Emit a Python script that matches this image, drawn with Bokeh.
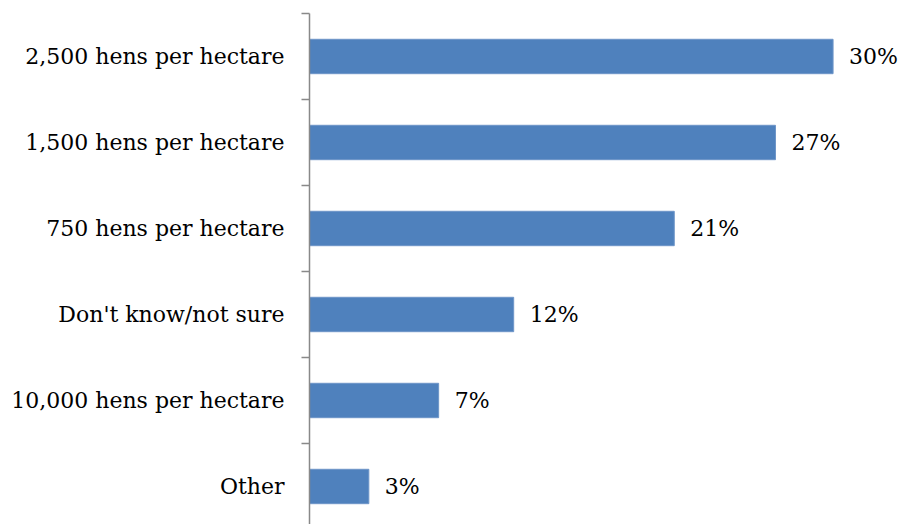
from bokeh.plotting import figure
from bokeh.models import ColumnDataSource, Range1d, FixedTicker, LinearAxis
from bokeh.core.properties import value
from bokeh.embed import file_html
from bokeh.resources import INLINE

categories = ["2,500 hens per hectare", "1,500 hens per hectare", "750 hens per hectare",
              "Don't know/not sure", "10,000 hens per hectare", "Other"]
values = [30.0, 26.7, 20.9, 11.7, 7.4, 3.4]
value_labels = ["30%", "27%", "21%", "12%", "7%", "3%"]

n = len(categories)
ypos = [n - i - 0.5 for i in range(n)]
boundaries = [float(k) for k in range(n + 1)]

FONT = "DejaVu Serif"
FS = "22px"

src = ColumnDataSource(dict(y=ypos, v=values, lab=value_labels))

p = figure(width=905, height=524, frame_width=596, frame_height=516,
           x_range=Range1d(0, 34.15), y_range=Range1d(0.058, 6.058),
           output_backend="svg", toolbar_location=None,
           x_axis_location=None, y_axis_location=None,
           min_border_left=309, min_border_right=0, min_border_top=8, min_border_bottom=0)
p.outline_line_color = None
p.grid.visible = False
p.background_fill_color = "white"

ax = LinearAxis(bounds=(0, n))
ax.ticker = FixedTicker(ticks=ypos, minor_ticks=boundaries)
ax.major_label_overrides = {y: c for y, c in zip(ypos, categories)}
ax.major_tick_line_color = None
ax.major_tick_out = 0
ax.major_tick_in = 0
ax.minor_tick_out = 8
ax.minor_tick_in = 0
ax.minor_tick_line_color = "#898989"
ax.minor_tick_line_width = 1.5
ax.axis_line_color = "#898989"
ax.axis_line_width = 1.5
ax.major_label_standoff = 17
ax.major_label_text_font = FONT
ax.major_label_text_font_size = FS
ax.major_label_text_color = "black"
p.add_layout(ax, "left")

p.hbar(y="y", right="v", left=0, height=0.4, source=src,
       fill_color="#4F81BD", line_color="#6E95C8", line_width=1)

p.text(x="v", y="y", text="lab", source=src, x_offset=16,
       text_baseline="middle", text_align="left",
       text_font=value(FONT), text_font_size=FS, text_color="black")

open("out.html", "w").write(file_html(p, INLINE))
